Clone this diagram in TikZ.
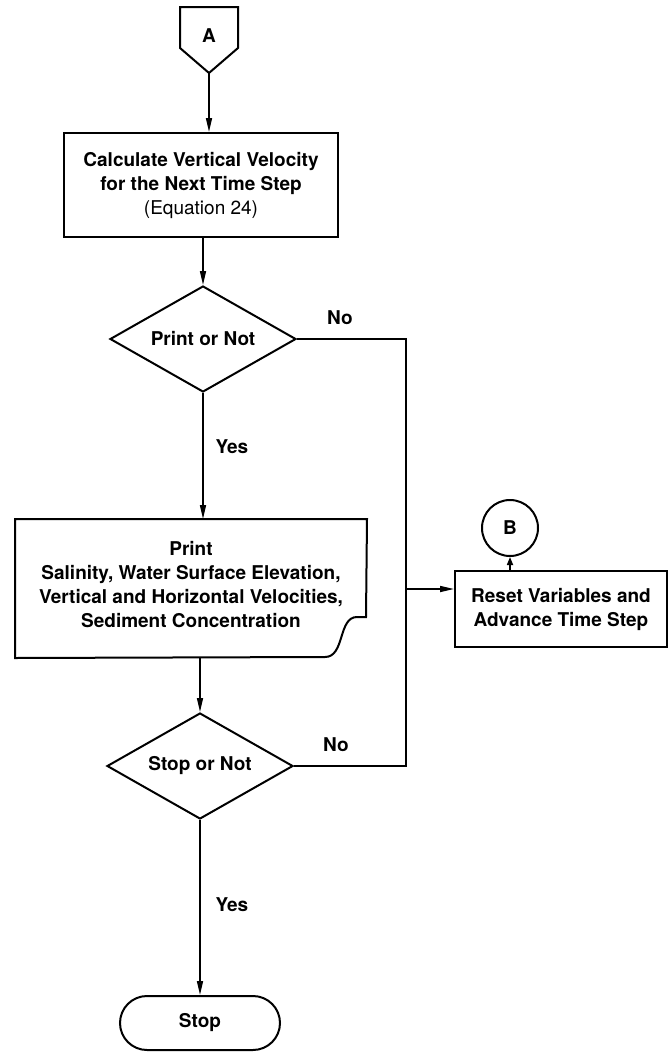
\documentclass[tikz,border=0pt]{standalone}
\usepackage{fontspec}
\setmainfont{TeX Gyre Heros}
\usetikzlibrary{shapes.geometric,arrows.meta}
\begin{document}
\begin{tikzpicture}[x=1pt,y=-1pt,
  line width=2pt,
  every node/.style={font=\fontsize{19}{24}\selectfont\bfseries, inner sep=0pt},
  box/.style={draw, rectangle, align=center},
  decision/.style={draw, diamond, aspect=1.75, minimum width=186pt, minimum height=106pt},
  flow/.style={-{Triangle[length=14pt,width=6pt]}, line width=1.6pt},
  lbl/.style={inner sep=0pt}
]
\useasboundingbox (0,0) rectangle (669,1052);

% off-page connector A
\draw (180,7) -- (238,7) -- (238,48) -- (209,73) -- (180,48) -- cycle;
\node (A) at (209,36) {A};
\coordinate (Atip) at (209,73);

% calculation box
\node[box, minimum width=274pt, minimum height=104pt] (calc) at (201,185)
  {Calculate Vertical Velocity\\for the Next Time Step\\{\mdseries(Equation 24)}};

% decisions
\node[decision] (d1) at (203,339) {Print or Not};
\node[decision] (d2) at (200,766) {Stop or Not};

% print (document) box
\node[minimum width=350pt, minimum height=137pt] (print) at (191,588.5) {};
\draw (print.north west) -- (print.north east) -- (366,617) -- (357,617)
  .. controls (338,617) and (345,657) .. (325,657) -- (print.south west) -- cycle;
\node[align=center] (printtxt) at (191,585)
  {Print\\Salinity, Water Surface Elevation,\\Vertical and Horizontal Velocities,\\Sediment Concentration};

% reset box and connector B
\node[box, minimum width=212pt, minimum height=76pt] (reset) at (561,609)
  {Reset Variables and\\Advance Time Step};
\node[draw, circle, minimum size=56pt] (B) at (510,528) {B};

% terminal
\node[draw, rounded corners=27pt, minimum width=160pt, minimum height=54pt] (stop) at (200,1023) {Stop};

% junction on the right
\coordinate (jx) at (406,589);

% connectors
\draw[flow] (Atip) -- (Atip |- calc.north);
\draw[flow] (calc.south -| d1.north) -- (d1.north);
\draw[flow] (d1.south) -- (d1.south |- print.north);
\draw[flow] (print.south -| d2.north) -- (d2.north);
\draw[flow] (d2.south) -- (stop.north);
\draw[line width=1.6pt] (d1.east) -| (jx) |- (d2.east);
\draw[flow] (jx) -- (reset.west |- jx);
\draw[-{Triangle[length=8pt,width=6pt]}, line width=1.6pt] (reset.north -| B) -- (B.south);

% labels
\node[lbl] (no1) at (340,318) {No};
\node[lbl] (yes1) at (232,447) {Yes};
\node[lbl] (no2) at (336,745) {No};
\node[lbl] (yes2) at (232,905) {Yes};
\end{tikzpicture}
\end{document}
